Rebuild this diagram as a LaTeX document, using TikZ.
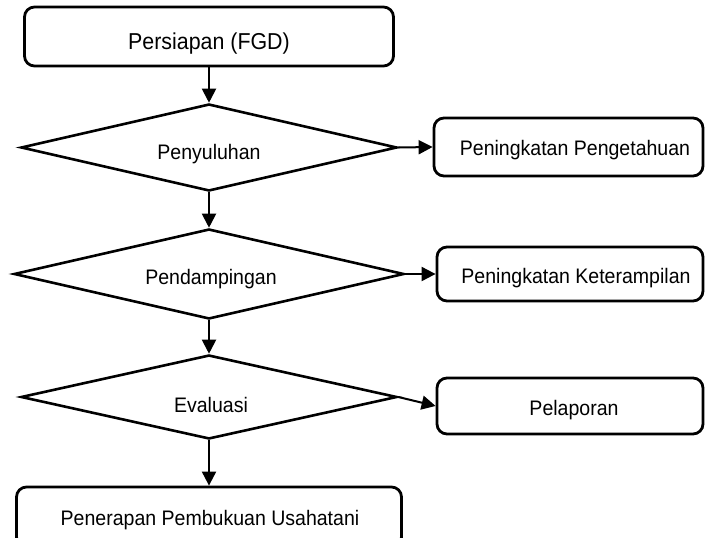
\documentclass[tikz,border=0pt]{standalone}
\usepackage{fontspec}
\setmainfont{Liberation Sans}[FakeStretch=0.93]
\usetikzlibrary{shapes.geometric,arrows.meta}
\begin{document}
\begin{tikzpicture}[x=1pt,y=-1pt,
  box/.style={draw, line width=2.8pt, rounded corners=10pt, inner sep=0pt},
  dia/.style={draw, line width=2.6pt, diamond, inner sep=0pt},
  lbl/.style={anchor=base, inner sep=0pt, font=\fontsize{21}{24}\selectfont},
  arr/.style={line width=2pt, -{Triangle[length=14pt,width=14pt]}}]
\clip (0,0) rectangle (705,538);
\fill[white] (0,0) rectangle (705,538);
\node[box, minimum width=369pt, minimum height=59pt] (b1) at (209,36.5) {};
\node[lbl, font=\fontsize{23}{26}\selectfont] (t1) at (209,49) {Persiapan (FGD)};
\node[dia, minimum width=376pt, minimum height=87pt] (d1) at (209,147.5) {};
\node[lbl] (t2) at (209,159) {Penyuluhan};
\node[box, minimum width=269pt, minimum height=58pt] (b2) at (568.5,147) {};
\node[lbl] (t3) at (575,155) {Peningkatan Pengetahuan};
\node[dia, minimum width=390pt, minimum height=90pt] (d2) at (209,274) {};
\node[lbl] (t4) at (211,284) {Pendampingan};
\node[box, minimum width=266pt, minimum height=54pt] (b3) at (570,274) {};
\node[lbl] (t5) at (576,283) {Peningkatan Keterampilan};
\node[dia, minimum width=376pt, minimum height=84pt] (d3) at (209,397) {};
\node[lbl] (t6) at (211,412) {Evaluasi};
\node[box, minimum width=266pt, minimum height=56pt] (b4) at (570,406) {};
\node[lbl] (t7) at (574,415) {Pelaporan};
\node[box, minimum width=385pt, minimum height=60pt] (b5) at (209,517) {};
\node[lbl] (t8) at (210,525) {Penerapan Pembukuan Usahatani};
\draw[arr] (b1.south) -- (d1.north);
\draw[arr] (d1.east) -- (b2.west);
\draw[arr] (d1.south) -- (d2.north);
\draw[arr] (d2.east) -- (b3.west);
\draw[arr] (d2.south) -- (d3.north);
\draw[arr] (d3.east) -- (b4.west);
\draw[arr] (d3.south) -- (b5.north);
\end{tikzpicture}
\end{document}
